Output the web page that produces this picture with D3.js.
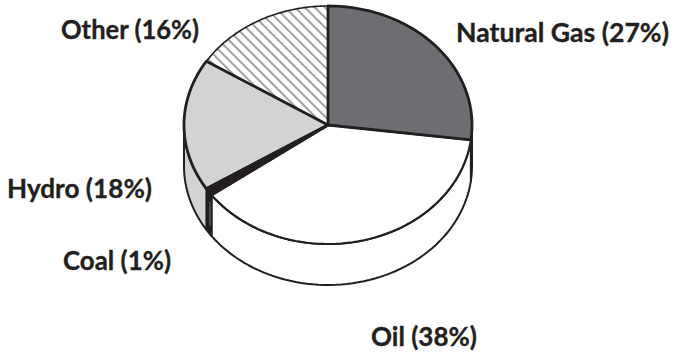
<!DOCTYPE html>
<html>
<head>
<meta charset="utf-8">
<script src="https://cdn.jsdelivr.net/npm/d3@7"></script>
<style>
html, body { margin: 0; padding: 0; background: #fff; }
svg { display: block; }
text { font-family: "Lato", sans-serif; font-weight: 700; fill: #231f20; stroke: #231f20; stroke-width: 0.35; }
</style>
</head>
<body>
<svg id="chart" width="680" height="356"></svg>
<script>
// Energy sources, clockwise from twelve o'clock
const sources = ["Natural Gas", "Oil", "Coal", "Hydro", "Other"];
const shares = [27, 38, 1, 18, 16];
const topFills = ["#6d6e71", "#ffffff", "#231f20", "#d1d3d4", "url(#hatch)"];
const wallFills = ["#ffffff", "#ffffff", "#231f20", "#d1d3d4", "#ffffff"];
const strokeWidths = [2.8, 2.2, 3, 2.8, 1.6];
const drawOrder = [1, 4, 0, 3, 2];
const labelX = [456, 371, 63, 7, 61];
const labelY = [42, 346, 270, 198, 39];
const labelWidths = [213, 106, 108, 145, 138];

const ink = "#231f20";
const cx = 328, cy = 125, rx = 144, ry = 119, depth = 41;
const hatchGap = 7;

const svg = d3.select("#chart");
const defs = svg.append("defs");

const hatch = defs.append("pattern")
  .attr("id", "hatch")
  .attr("patternUnits", "userSpaceOnUse")
  .attr("width", hatchGap)
  .attr("height", hatchGap)
  .attr("patternTransform", "translate(2 0) rotate(45)");
hatch.append("rect").attr("width", hatchGap).attr("height", hatchGap).attr("fill", "#fff");
hatch.append("line")
  .attr("x1", 0).attr("x2", hatchGap).attr("y1", 1).attr("y2", 1)
  .attr("stroke", ink).attr("stroke-width", 0.85);

const slices = d3.pie().sort(null).value(d => d)(shares);

// The tilted disc is a circular pie flattened onto an ellipse by these scales
const xScale = d3.scaleLinear().domain([-1, 1]).range([cx - rx, cx + rx]);
const yScale = d3.scaleLinear().domain([-1, 1]).range([cy - ry, cy + ry]);
const rimX = a => xScale(Math.sin(a));
const rimY = a => yScale(-Math.cos(a));

const rimLine = d3.line().x(d => d[0]).y(d => d[1]);
const rimPoints = (a0, a1, dy) => d3.range(0, 61).map(i => {
  const a = a0 + (a1 - a0) * i / 60;
  return [rimX(a), rimY(a) + dy];
});

// Side wall: only the part of the rim facing the viewer is drawn
const wall = svg.append("g");
slices.forEach((s, i) => {
  const a0 = Math.max(s.startAngle, Math.PI / 2);
  const a1 = Math.min(s.endAngle, Math.PI * 1.5);
  if (a1 <= a0) return;
  const pts = rimPoints(a0, a1, 0).concat(rimPoints(a1, a0, depth));
  wall.append("path")
    .attr("d", rimLine(pts) + "Z")
    .attr("fill", wallFills[i])
    .attr("stroke", ink)
    .attr("stroke-width", 2)
    .attr("stroke-linejoin", "round");
});

// Pale seam on the dark wedge's side
const coal = slices[2];
wall.append("line")
  .attr("x1", rimX(coal.endAngle) + 3.6).attr("x2", rimX(coal.endAngle) + 3.6)
  .attr("y1", rimY(coal.endAngle) + 13).attr("y2", rimY(coal.endAngle) + 37)
  .attr("stroke", "#808285").attr("stroke-width", 0.8);

// Top face of the disc, dark outlines last so they sit on top
const face = svg.append("g");
drawOrder.forEach(i => {
  const s = slices[i];
  face.append("path")
    .attr("d", rimLine([[cx, cy]].concat(rimPoints(s.startAngle, s.endAngle, 0))) + "Z")
    .attr("fill", topFills[i])
    .attr("stroke", ink)
    .attr("stroke-width", strokeWidths[i])
    .attr("stroke-linejoin", "round");
});

// Labels, each fitted to its own width
svg.append("g").selectAll("text")
  .data(sources)
  .join("text")
  .attr("x", (d, i) => labelX[i])
  .attr("y", (d, i) => labelY[i])
  .attr("font-size", 26)
  .attr("textLength", (d, i) => labelWidths[i])
  .attr("lengthAdjust", "spacingAndGlyphs")
  .text((d, i) => `${d} (${shares[i]}%)`);
</script>
</body>
</html>
